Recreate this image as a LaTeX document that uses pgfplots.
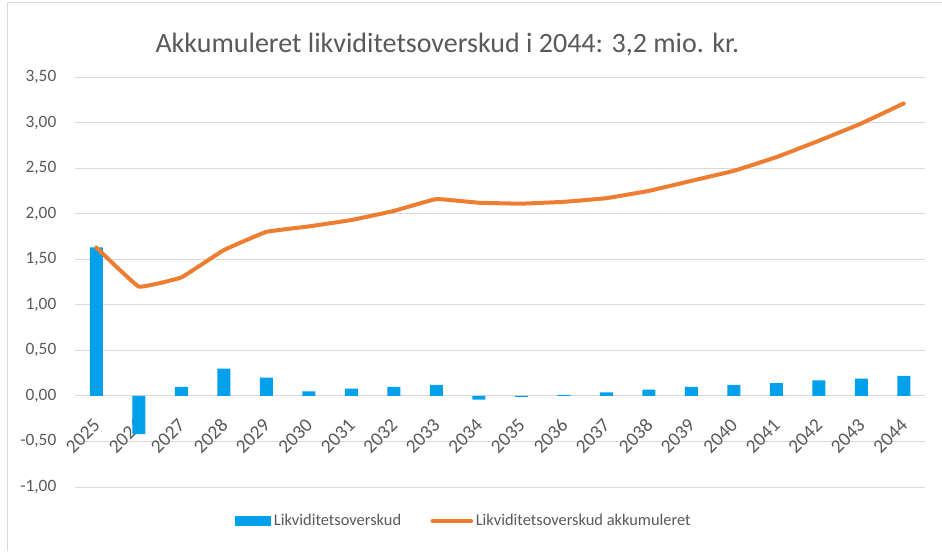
\documentclass[border=0pt]{standalone}
\usepackage{pgfplots}
\pgfplotsset{compat=1.18}
\usepackage{fontspec}
\setmainfont{Carlito}
\definecolor{barblue}{RGB}{0,160,234}
\definecolor{lineorange}{RGB}{237,125,49}
\definecolor{gridgray}{RGB}{217,217,217}
\definecolor{txtgray}{RGB}{89,89,89}
\pgfplotsset{
  layers/mylayers/.define layer set={axis background,axis grid,axis ticks,axis lines,pre main,main,axis tick labels,axis descriptions,axis foreground}{},
}
\pgfplotstableread{
x bar cum
0 1.63 1.63
1 -0.42 1.20
2 0.10 1.30
3 0.30 1.60
4 0.20 1.80
5 0.05 1.86
6 0.08 1.93
7 0.10 2.03
8 0.12 2.16
9 -0.04 2.12
10 -0.01 2.11
11 0.01 2.13
12 0.04 2.17
13 0.07 2.25
14 0.10 2.36
15 0.12 2.47
16 0.14 2.62
17 0.17 2.80
18 0.19 2.99
19 0.22 3.21
}\datatable
\begin{document}
\begin{tikzpicture}
\begin{axis}[
  set layers=mylayers,
  at={(0,0)}, anchor=south west,
  scale only axis,
  width=637.5pt, height=307.5pt,
  xmin=-0.5, xmax=19.5,
  ymin=-1, ymax=3.5,
  ytick={-1,-0.5,...,3.5},
  xtick={0,...,19},
  xticklabels={2025,2026,2027,2028,2029,2030,2031,2032,2033,2034,2035,2036,2037,2038,2039,2040,2041,2042,2043,2044},
  axis x line=middle, axis y line=left,
  axis line style={draw=none},
  hide obscured x ticks=false, hide obscured y ticks=false,
  major tick length=0pt,
  ymajorgrids, grid style={gridgray, line width=0.75pt},
  yticklabel style={/pgf/number format/.cd, fixed, fixed zerofill, precision=2, use comma, /tikz/.cd, font=\fontsize{13}{15}\selectfont, text=txtgray, xshift=-10.5pt},
  /pgf/number format/assume math mode=true,
  xticklabel style={font=\fontsize{14.5}{17}\selectfont, text=txtgray, inner sep=0pt, xshift=-3pt, yshift=-16pt, rotate=45, anchor=north east},
  legend style={at={(0.458,-0.083)}, anchor=center, draw=none, legend columns=2,
    font=\fontsize{12.3}{14}\selectfont, text=txtgray,
    /tikz/every even column/.append style={column sep=20pt}},
  legend cell align=left,
  clip=false,
]
\addplot[ybar, bar width=9.75pt, fill=barblue, draw=none, bar shift=0pt,
  area legend,
  legend image code/.code={\fill[barblue] (0pt,-3.5pt) rectangle (27pt,3.5pt);}]
  table[x=x, y=bar] {\datatable};
\addlegendentry{Likviditetsoverskud}
\addplot[lineorange, line width=3pt, line join=round, line cap=round, smooth, tension=0.15,
  legend image code/.code={\draw[lineorange, line width=3pt, line cap=round] (0pt,0pt) -- (29pt,0pt);}]
  table[x=x, y=cum] {\datatable};
\addlegendentry{Likviditetsoverskud akkumuleret}
\node[font=\fontsize{21}{25}\selectfont, text=txtgray, anchor=center] at (rel axis cs:0.438,1.08) {Akkumuleret likviditetsoverskud i 2044: 3,2 mio. kr.};
\end{axis}
\draw[gridgray, line width=0.75pt] (-50.25pt,-48pt) -- (-50.25pt,363pt) -- (650.25pt,363pt);
\pgfresetboundingbox
\useasboundingbox (-56.25pt,-48pt) rectangle (650.25pt,365.25pt);
\end{tikzpicture}
\end{document}
